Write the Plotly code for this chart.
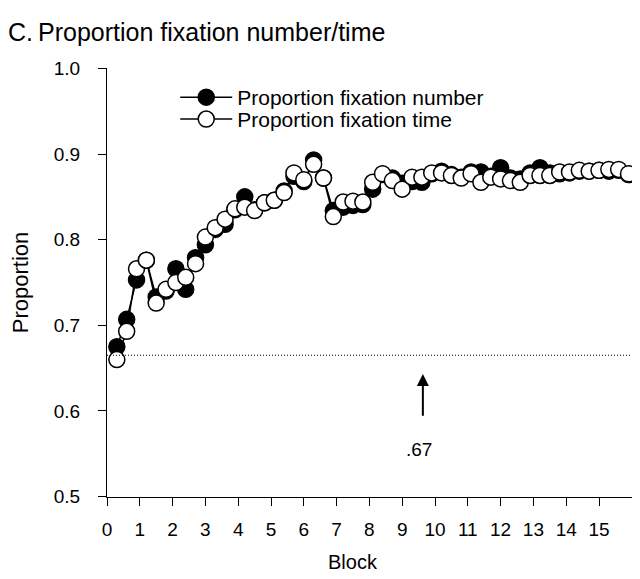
import plotly.graph_objects as go

# Block positions of the measurements
blocks = [0.3, 0.6, 0.9, 1.2, 1.5, 1.8, 2.1, 2.4, 2.7, 3.0,
          3.3, 3.6, 3.9, 4.2, 4.5, 4.8, 5.1, 5.4, 5.7, 6.0,
          6.3, 6.6, 6.9, 7.2, 7.5, 7.8, 8.1, 8.4, 8.7, 9.0,
          9.3, 9.6, 9.9, 10.2, 10.5, 10.8, 11.1, 11.4, 11.7, 12.0,
          12.3, 12.6, 12.9, 13.2, 13.5, 13.8, 14.1, 14.4, 14.7, 15.0,
          15.3, 15.6, 15.9]

prop_number = [0.675, 0.707, 0.753, 0.776, 0.733, 0.740, 0.766, 0.742, 0.779, 0.794,
               0.812, 0.818, 0.835, 0.850, 0.835, 0.843, 0.846, 0.857, 0.874, 0.868,
               0.893, 0.872, 0.834, 0.838, 0.840, 0.841, 0.859, 0.876, 0.872, 0.866,
               0.868, 0.867, 0.877, 0.880, 0.876, 0.873, 0.879, 0.879, 0.874, 0.884,
               0.872, 0.871, 0.878, 0.884, 0.878, 0.877, 0.878, 0.880, 0.880, 0.881,
               0.880, 0.881, 0.876]

prop_time = [0.660, 0.693, 0.766, 0.776, 0.726, 0.742, 0.750, 0.756, 0.772, 0.803,
             0.814, 0.824, 0.836, 0.838, 0.834, 0.843, 0.846, 0.855, 0.878, 0.870,
             0.888, 0.872, 0.827, 0.844, 0.845, 0.844, 0.867, 0.877, 0.869, 0.859,
             0.873, 0.873, 0.878, 0.878, 0.875, 0.872, 0.877, 0.867, 0.873, 0.871,
             0.869, 0.867, 0.875, 0.875, 0.875, 0.879, 0.879, 0.881, 0.880, 0.881,
             0.882, 0.882, 0.877]

chance_level = 0.665
chance_label = ".67"
arrow_x = 9.63
arrow_tip = 0.643
arrow_tail = 0.5925
label_y = 0.555

x_ticks = list(range(0, 16))
y_ticks = [0.5, 0.6, 0.7, 0.8, 0.9, 1.0]
y_tick_text = ["0.5", "0.6", "0.7", "0.8", "0.9", "1.0"]

FONT = "Liberation Sans, Arial, sans-serif"

fig = go.Figure()
fig.add_trace(go.Scatter(
    x=blocks, y=prop_number, mode="lines+markers",
    name="Proportion fixation number", legend="legend",
    line=dict(color="black", width=1.5),
    marker=dict(symbol="circle", size=16, color="black",
                line=dict(color="black", width=1.5)),
))
fig.add_trace(go.Scatter(
    x=blocks, y=prop_time, mode="lines+markers",
    name="Proportion fixation time", legend="legend2",
    line=dict(color="black", width=1.5),
    marker=dict(symbol="circle", size=16, color="white",
                line=dict(color="black", width=1.5)),
))

fig.add_shape(type="line", xref="paper", x0=0, x1=1, yref="y",
              y0=chance_level, y1=chance_level,
              line=dict(color="black", width=1, dash="1px,2px"))

fig.add_annotation(x=arrow_x, y=arrow_tip, ax=arrow_x, ay=arrow_tail,
                   xref="x", yref="y", axref="x", ayref="y",
                   text="", showarrow=True, arrowhead=2, arrowsize=1.2,
                   arrowwidth=2, arrowcolor="black")
fig.add_annotation(x=arrow_x - 0.12, y=label_y, xref="x", yref="y",
                   text=chance_label, showarrow=False,
                   font=dict(size=19, color="black", family=FONT))

fig.add_annotation(x=7.5, y=-0.1525, xref="x", yref="paper",
                   text="Block", showarrow=False, yanchor="middle",
                   font=dict(size=20, color="black", family=FONT))

legend_common = dict(xanchor="left", yanchor="top", bgcolor="rgba(0,0,0,0)",
                     font=dict(size=21, color="black", family=FONT),
                     itemwidth=52)

fig.update_layout(
    width=632, height=571,
    margin=dict(l=99, r=0, t=60, b=81.5),
    paper_bgcolor="white", plot_bgcolor="white",
    font=dict(family=FONT, color="black", size=19),
    title=dict(
        text="<span style='font-size:25px'>C.</span>\u2009Proportion fixation number/time",
        x=0.0, xanchor="left", xref="container",
        y=1 - 24 / 571, yanchor="middle", yref="container",
        pad=dict(l=0, r=0, t=0, b=0),
        font=dict(size=25, color="black", family=FONT),
    ),
    showlegend=True,
    legend=dict(x=0.128, y=0.979, **legend_common),
    legend2=dict(x=0.128, y=0.928, **legend_common),
    xaxis=dict(range=[0, 16.25], tickvals=x_ticks, ticks="outside", ticklen=8,
               tickwidth=1, tickcolor="black", showline=True, linecolor="black",
               linewidth=1, showgrid=False, zeroline=False, automargin=False,
               ticklabelstandoff=7, tickfont=dict(size=19)),
    yaxis=dict(range=[0.4995, 1.0005], tickvals=y_ticks, ticktext=y_tick_text,
               ticks="outside", ticklen=8, tickwidth=1, tickcolor="black",
               showline=True, linecolor="black", linewidth=1, showgrid=False,
               zeroline=False, automargin=False, ticklabelstandoff=14,
               tickfont=dict(size=19),
               title=dict(text="Proportion", standoff=22,
                          font=dict(size=22, color="black"))),
)

fig.write_html("out.html")
